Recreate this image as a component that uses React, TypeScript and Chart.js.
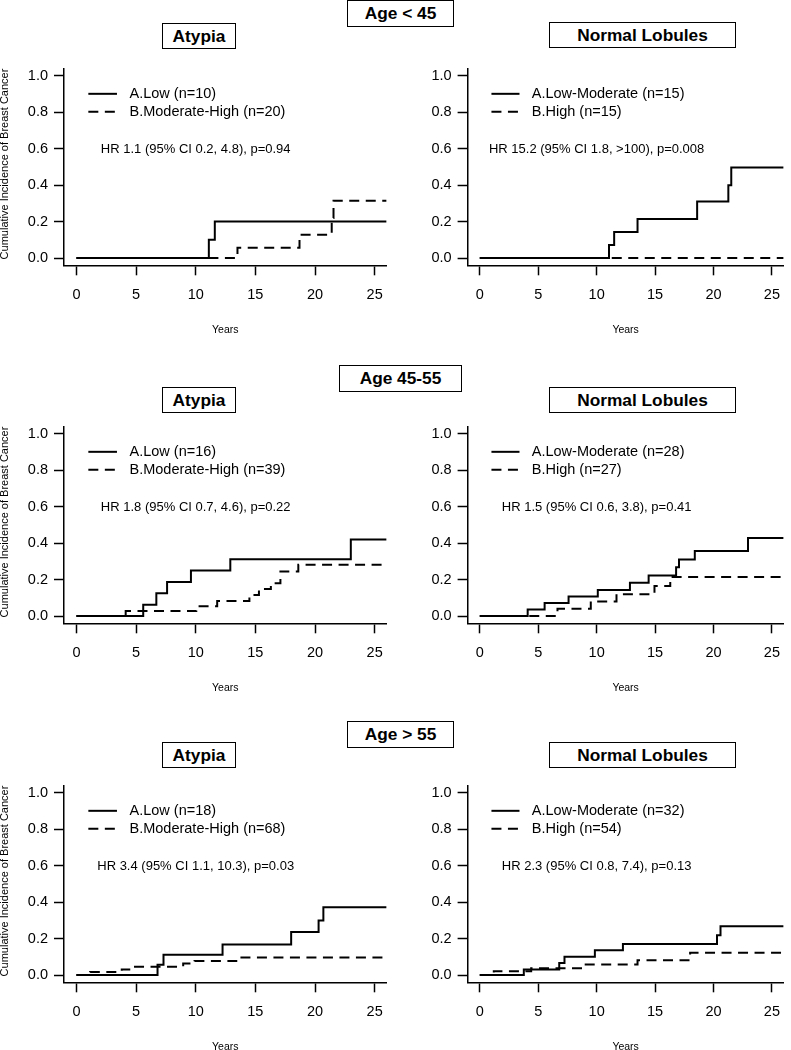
import React, { useEffect, useRef } from "react";
import { Chart, registerables } from "chart.js";

Chart.register(...registerables);

// ---------- DATA ----------
const xTicks = [0, 5, 10, 15, 20, 25];
const yTicks = [0, 0.2, 0.4, 0.6, 0.8, 1.0];
const ageGroups = ["Age < 45", "Age 45-55", "Age > 55"];
const panelTitles = ["Atypia", "Normal Lobules"];

// Age < 45, Atypia
const lt45AtypiaLowT = [0, 11.1, 11.6, 26];
const lt45AtypiaLowY = [0, 0.1, 0.2, 0.2];
const lt45AtypiaModHighT = [0, 13.5, 18.7, 21.4, 21.55, 26];
const lt45AtypiaModHighY = [0, 0.056, 0.128, 0.22, 0.314, 0.314];
const lt45AtypiaLabels = ["A.Low (n=10)", "B.Moderate-High (n=20)"];
const lt45AtypiaHR = "HR 1.1 (95% CI 0.2, 4.8), p=0.94";

// Age < 45, Normal Lobules
const lt45NormalLowModT = [0, 11.06, 11.5, 13.5, 18.6, 21.27, 21.52, 26];
const lt45NormalLowModY = [0, 0.071, 0.143, 0.214, 0.31, 0.40, 0.497, 0.497];
const lt45NormalHighT = [0, 26];
const lt45NormalHighY = [0, 0];
const lt45NormalLabels = ["A.Low-Moderate (n=15)", "B.High (n=15)"];
const lt45NormalHR = "HR 15.2 (95% CI 1.8, >100), p=0.008";

// Age 45-55, Atypia
const mid45AtypiaLowT = [0, 5.6, 6.7, 7.6, 9.6, 12.9, 23.0, 26];
const mid45AtypiaLowY = [0, 0.0625, 0.125, 0.1875, 0.25, 0.3125, 0.42, 0.42];
const mid45AtypiaModHighT = [0, 4.13, 10.05, 11.8, 14.5, 15.3, 16.3, 17.1, 18.6, 26];
const mid45AtypiaModHighY = [0, 0.027, 0.054, 0.082, 0.115, 0.148, 0.18, 0.245, 0.282, 0.282];
const mid45AtypiaLabels = ["A.Low (n=16)", "B.Moderate-High (n=39)"];
const mid45AtypiaHR = "HR 1.8 (95% CI 0.7, 4.6), p=0.22";

// Age 45-55, Normal Lobules
const mid45NormalLowModT = [0, 4.1, 5.55, 7.6, 10.1, 12.85, 14.45, 16.8, 17.05, 18.4, 22.95, 26];
const mid45NormalLowModY = [0, 0.036, 0.071, 0.107, 0.143, 0.183, 0.223, 0.268, 0.31, 0.357, 0.428, 0.428];
const mid45NormalHighT = [0, 6.65, 9.5, 11.7, 14.95, 16.3, 26];
const mid45NormalHighY = [0, 0.04, 0.08, 0.12, 0.165, 0.215, 0.215];
const mid45NormalLabels = ["A.Low-Moderate (n=28)", "B.High (n=27)"];
const mid45NormalHR = "HR 1.5 (95% CI 0.6, 3.8), p=0.41";

// Age > 55, Atypia
const gt55AtypiaLowT = [0, 6.8, 7.3, 12.25, 18.0, 20.3, 20.7, 26];
const gt55AtypiaLowY = [0, 0.056, 0.111, 0.167, 0.236, 0.30, 0.372, 0.372];
const gt55AtypiaModHighT = [0, 1.15, 3.8, 4.6, 8.95, 9.9, 13.4, 26];
const gt55AtypiaModHighY = [0, 0.017, 0.031, 0.046, 0.063, 0.077, 0.096, 0.096];
const gt55AtypiaLabels = ["A.Low (n=18)", "B.Moderate-High (n=68)"];
const gt55AtypiaHR = "HR 3.4 (95% CI 1.1, 10.3), p=0.03";

// Age > 55, Normal Lobules
const gt55NormalLowModT = [0, 3.77, 6.8, 7.25, 9.85, 12.25, 20.3, 20.6, 26];
const gt55NormalLowModY = [0, 0.031, 0.066, 0.1, 0.136, 0.171, 0.218, 0.268, 0.268];
const gt55NormalHighT = [0, 1.2, 4.4, 8.85, 13.5, 18.0, 26];
const gt55NormalHighY = [0, 0.021, 0.037, 0.058, 0.081, 0.122, 0.122];
const gt55NormalLabels = ["A.Low-Moderate (n=32)", "B.High (n=54)"];
const gt55NormalHR = "HR 2.3 (95% CI 0.8, 7.4), p=0.13";

// ---------- LAYOUT ----------
const FONT = '"Liberation Sans", Arial, Helvetica, sans-serif';
const ROW_TOPS = [0, 358, 717];
const ROW_HEIGHTS = [340, 340, 333];
const COL_LEFTS = [0, 395];
const COL_WIDTHS = [395, 396];
const Y_AXIS_W = [64, 72.6];
const PAD_RIGHT = [8.4, 0];
const PAD_TOP = 68.7;
const AREA_BOTTOM = 265.3;

const ageBoxes = [
  { left: 347, top: 0, width: 107, height: 27 },
  { left: 339, top: 365, width: 123, height: 27 },
  { left: 347, top: 721, width: 107, height: 27 },
];
const titleBoxes = [
  [
    { left: 162, top: 23, width: 74, height: 26 },
    { left: 549, top: 22, width: 187, height: 26 },
  ],
  [
    { left: 162, top: 387, width: 74, height: 26 },
    { left: 549, top: 387, width: 187, height: 26 },
  ],
  [
    { left: 162, top: 742, width: 74, height: 26 },
    { left: 549, top: 742, width: 187, height: 26 },
  ],
];

type Panel = {
  row: number;
  col: number;
  aT: number[];
  aY: number[];
  bT: number[];
  bY: number[];
  labels: string[];
  hr: string;
};

const panels: Panel[] = [
  { row: 0, col: 0, aT: lt45AtypiaLowT, aY: lt45AtypiaLowY, bT: lt45AtypiaModHighT, bY: lt45AtypiaModHighY, labels: lt45AtypiaLabels, hr: lt45AtypiaHR },
  { row: 0, col: 1, aT: lt45NormalLowModT, aY: lt45NormalLowModY, bT: lt45NormalHighT, bY: lt45NormalHighY, labels: lt45NormalLabels, hr: lt45NormalHR },
  { row: 1, col: 0, aT: mid45AtypiaLowT, aY: mid45AtypiaLowY, bT: mid45AtypiaModHighT, bY: mid45AtypiaModHighY, labels: mid45AtypiaLabels, hr: mid45AtypiaHR },
  { row: 1, col: 1, aT: mid45NormalLowModT, aY: mid45NormalLowModY, bT: mid45NormalHighT, bY: mid45NormalHighY, labels: mid45NormalLabels, hr: mid45NormalHR },
  { row: 2, col: 0, aT: gt55AtypiaLowT, aY: gt55AtypiaLowY, bT: gt55AtypiaModHighT, bY: gt55AtypiaModHighY, labels: gt55AtypiaLabels, hr: gt55AtypiaHR },
  { row: 2, col: 1, aT: gt55NormalLowModT, aY: gt55NormalLowModY, bT: gt55NormalHighT, bY: gt55NormalHighY, labels: gt55NormalLabels, hr: gt55NormalHR },
];

const DASH = [10, 6.5];

function toPoints(t: number[], y: number[]) {
  return t.map((v, i) => ({ x: v, y: y[i] }));
}

function makeAnnotPlugin(p: Panel) {
  return {
    id: "annot",
    afterDraw(chart: any) {
      const { ctx, chartArea } = chart;
      const xs = chart.scales.x;
      const ys = chart.scales.y;
      ctx.save();
      ctx.fillStyle = "#000";
      ctx.strokeStyle = "#000";
      // legend
      const rowsY = [0.902, 0.803];
      ctx.lineWidth = 2;
      for (let i = 0; i < 2; i++) {
        const py = ys.getPixelForValue(rowsY[i]);
        ctx.setLineDash(i === 0 ? [] : DASH);
        ctx.beginPath();
        ctx.moveTo(xs.getPixelForValue(1.0), py);
        ctx.lineTo(xs.getPixelForValue(3.4), py);
        ctx.stroke();
        ctx.setLineDash([]);
        ctx.font = `14.5px ${FONT}`;
        ctx.textAlign = "left";
        ctx.textBaseline = "middle";
        ctx.fillText(p.labels[i], xs.getPixelForValue(4.45), py + 0.5);
      }
      // HR text
      ctx.font = `13px ${FONT}`;
      ctx.textAlign = "center";
      ctx.textBaseline = "middle";
      ctx.fillText(p.hr, xs.getPixelForValue(10), ys.getPixelForValue(0.6) + 0.5);
      // x title
      ctx.font = `10.5px ${FONT}`;
      ctx.fillText("Years", (chartArea.left + chartArea.right) / 2, chartArea.bottom + 65);
      // y title (left column only)
      if (p.col === 0) {
        ctx.save();
        ctx.translate(5, (chartArea.top + chartArea.bottom) / 2 - 3);
        ctx.rotate(-Math.PI / 2);
        ctx.font = `11px ${FONT}`;
        ctx.textAlign = "center";
        ctx.textBaseline = "middle";
        ctx.fillText("Cumulative Incidence of Breast Cancer", 0, 0);
        ctx.restore();
      }
      ctx.restore();
    },
  };
}

function PanelChart({ p }: { p: Panel }) {
  const ref = useRef<HTMLCanvasElement | null>(null);
  const w = COL_WIDTHS[p.col];
  const h = ROW_HEIGHTS[p.row];
  useEffect(() => {
    if (!ref.current) return;
    const axisGrid = {
      drawOnChartArea: false,
      drawTicks: true,
      tickLength: 10,
      tickWidth: 1.5,
      tickColor: "#000",
    };
    const chart = new Chart(ref.current, {
      type: "line",
      data: {
        datasets: [
          {
            data: toPoints(p.aT, p.aY),
            borderColor: "#000",
            borderWidth: 2,
            pointRadius: 0,
            stepped: "before",
            fill: false,
          },
          {
            data: toPoints(p.bT, p.bY),
            borderColor: "#000",
            borderWidth: 2,
            borderDash: DASH,
            pointRadius: 0,
            stepped: "before",
            fill: false,
          },
        ],
      },
      options: {
        animation: false,
        responsive: false,
        devicePixelRatio: 1,
        layout: { padding: { top: PAD_TOP, left: 0, right: PAD_RIGHT[p.col], bottom: 0 } },
        plugins: { legend: { display: false }, tooltip: { enabled: false }, title: { display: false } },
        scales: {
          x: {
            type: "linear",
            min: -1.04,
            max: 26,
            afterBuildTicks: (s: any) => {
              s.ticks = xTicks.map((v) => ({ value: v }));
            },
            afterFit: (s: any) => {
              s.height = h - AREA_BOTTOM;
            },
            ticks: {
              autoSkip: false,
              maxRotation: 0,
              padding: 11,
              color: "#000",
              font: { family: FONT, size: 14.5 },
              callback: (v: any) => String(v),
            },
            grid: axisGrid,
            border: { display: true, color: "#000", width: 1.5 },
          },
          y: {
            type: "linear",
            min: -0.04,
            max: 1.04,
            afterBuildTicks: (s: any) => {
              s.ticks = yTicks.map((v) => ({ value: v }));
            },
            afterFit: (s: any) => {
              s.width = Y_AXIS_W[p.col];
            },
            ticks: {
              autoSkip: false,
              padding: 6,
              color: "#000",
              font: { family: FONT, size: 14.5 },
              callback: (v: any) => Number(v).toFixed(1),
            },
            grid: axisGrid,
            border: { display: true, color: "#000", width: 1.5 },
          },
        },
      } as any,
      plugins: [makeAnnotPlugin(p)],
    });
    return () => chart.destroy();
  }, [p]);
  return (
    <canvas
      ref={ref}
      width={w}
      height={h}
      style={{
        position: "absolute",
        left: COL_LEFTS[p.col],
        top: ROW_TOPS[p.row],
        width: w,
        height: h,
      }}
    />
  );
}

function Box({ b, text }: { b: any; text: string }) {
  return (
    <div
      style={{
        position: "absolute",
        left: b.left,
        top: b.top,
        width: b.width,
        height: b.height,
        boxSizing: "border-box",
        border: "1.5px solid #000",
        background: "#fff",
        display: "flex",
        alignItems: "center",
        justifyContent: "center",
        fontFamily: FONT,
        fontWeight: "bold",
        fontSize: 17.3,
        color: "#000",
        whiteSpace: "nowrap",
        zIndex: 2,
      }}
    >
      {text}
    </div>
  );
}

export default function App() {
  return (
    <div
      style={{
        position: "absolute",
        left: 0,
        top: 0,
        width: 791,
        height: 1050,
        overflow: "hidden",
        background: "#fff",
      }}
    >
      {panels.map((p, i) => (
        <PanelChart key={i} p={p} />
      ))}
      {ageBoxes.map((b, i) => (
        <Box key={"a" + i} b={b} text={ageGroups[i]} />
      ))}
      {titleBoxes.map((row, r) =>
        row.map((b, c) => <Box key={"t" + r + c} b={b} text={panelTitles[c]} />)
      )}
    </div>
  );
}
